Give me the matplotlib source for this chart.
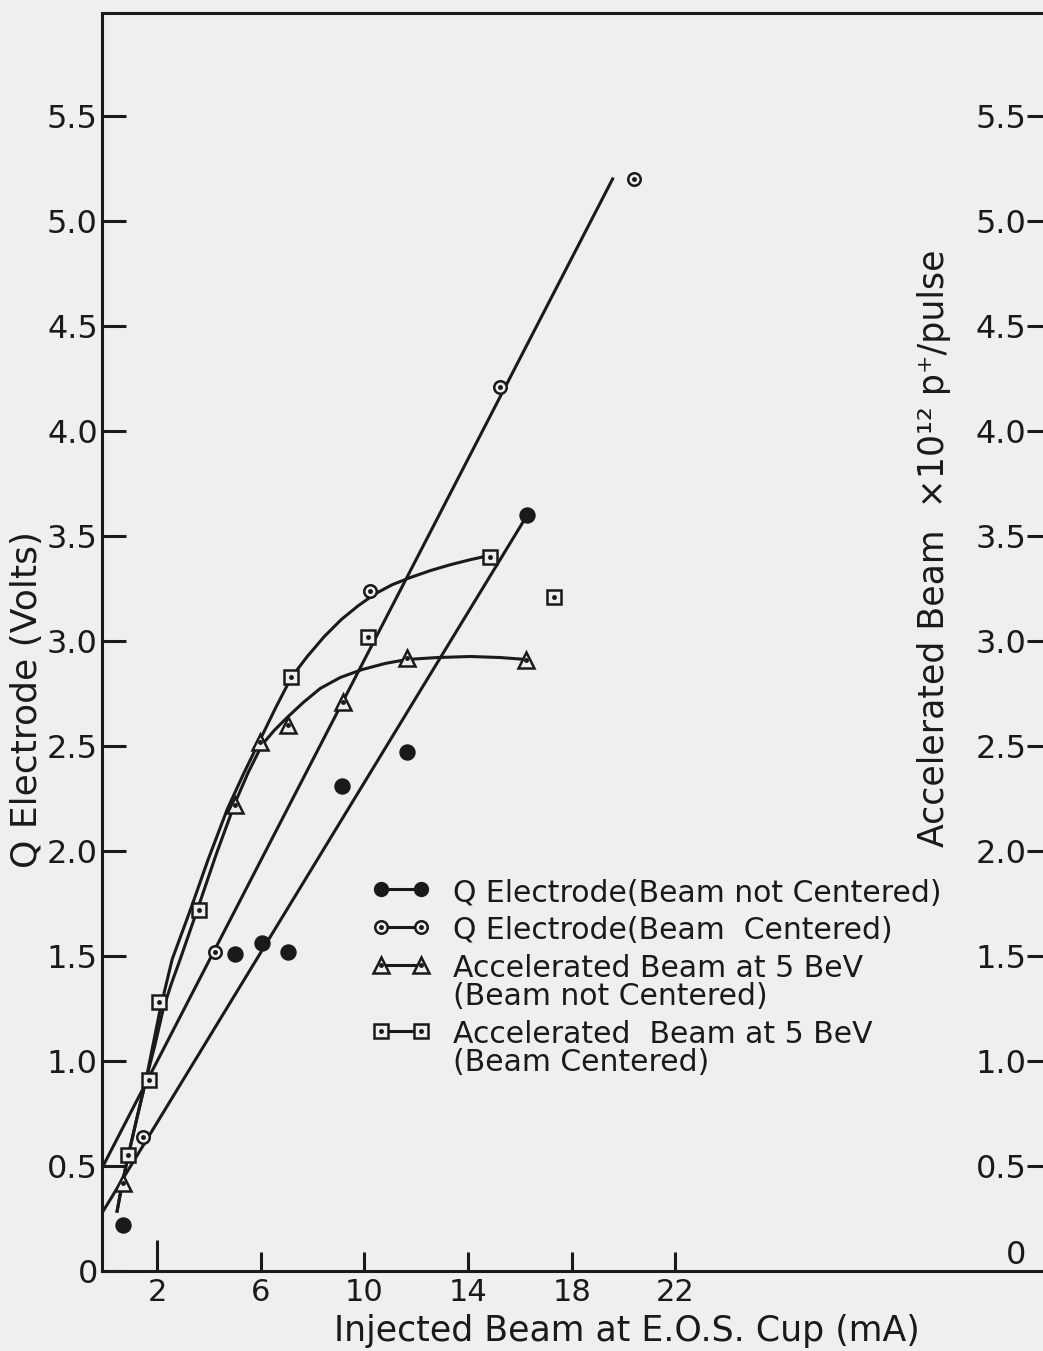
import numpy as np
import matplotlib
matplotlib.use('Agg')
import matplotlib.pyplot as plt
from matplotlib.lines import Line2D

plt.rcParams['font.family'] = ['DejaVu Sans']

x_q_nc = [0.69, 5.02, 6.06, 7.07, 9.15, 11.66, 16.29]
y_q_nc = [0.22, 1.51, 1.56, 1.52, 2.31, 2.47, 3.60]
x_q_c = [1.47, 4.25, 10.23, 15.25, 20.39]
y_q_c = [0.64, 1.52, 3.24, 4.21, 5.20]
x_acc_nc = [0.69, 5.02, 5.98, 7.07, 9.19, 11.66, 16.25]
y_acc_nc = [0.42, 2.22, 2.52, 2.60, 2.71, 2.92, 2.91]
x_acc_c = [0.89, 1.70, 2.08, 3.63, 7.18, 10.15, 14.83, 17.30]
y_acc_c = [0.55, 0.91, 1.28, 1.72, 2.83, 3.02, 3.40, 3.21]

# hand drawn fit lines / curves (points read along them)
fit_q_nc_x = [-0.12, 16.29]
fit_q_nc_y = [0.276, 3.60]
fit_q_c_x = [-0.12, 19.58]
fit_q_c_y = [0.49, 5.20]
curve_c_x = [0.463, 0.656, 0.888, 1.236, 1.583, 1.853, 2.124, 2.355, 2.587, 3.282, 3.977,
             4.710, 5.328, 5.985, 6.564, 7.181, 7.799, 8.456, 9.112, 9.768, 10.425,
             11.081, 11.776, 12.548, 13.320, 14.093, 14.788]
curve_c_y = [0.285, 0.414, 0.547, 0.733, 0.913, 1.080, 1.246, 1.365, 1.484, 1.717, 1.960,
             2.198, 2.364, 2.531, 2.678, 2.826, 2.926, 3.021, 3.102, 3.168, 3.225,
             3.268, 3.302, 3.335, 3.363, 3.387, 3.406]
curve_nc_x = [0.463, 0.656, 0.888, 1.236, 1.583, 1.931, 2.239, 2.548, 2.896, 3.591, 4.286,
              5.019, 5.521, 6.062, 6.525, 7.027, 7.645, 8.301, 9.073, 9.923, 10.811,
              11.660, 12.819, 14.093, 15.251, 16.216]
curve_nc_y = [0.285, 0.414, 0.547, 0.733, 0.913, 1.080, 1.246, 1.365, 1.484, 1.732, 1.984,
              2.231, 2.374, 2.507, 2.574, 2.636, 2.707, 2.774, 2.826, 2.864, 2.893,
              2.912, 2.921, 2.926, 2.921, 2.912]

yticks = [0, 0.5, 1.0, 1.5, 2.0, 2.5, 3.0, 3.5, 4.0, 4.5, 5.0, 5.5]
ytick_labels = ['0', '0.5', '1.0', '1.5', '2.0', '2.5', '3.0', '3.5', '4.0', '4.5', '5.0', '5.5']
xticks = [2, 6, 10, 14, 18, 22]

labels = ['Q Electrode(Beam not Centered)',
          'Q Electrode(Beam  Centered)',
          'Accelerated Beam at 5 BeV\n(Beam not Centered)',
          'Accelerated  Beam at 5 BeV\n(Beam Centered)']

paper = '#efefed'
ink = '#1a1a1a'
lw = 2.2

fig = plt.figure(figsize=(10.43, 13.51), dpi=100, facecolor=paper)
ax = fig.add_axes([102/1043, 80/1351, 944/1043, 1258/1351])
ax.set_facecolor(paper)

ax.plot(fit_q_nc_x, fit_q_nc_y, color=ink, lw=lw)
ax.plot(fit_q_c_x, fit_q_c_y, color=ink, lw=lw)
ax.plot(curve_c_x, curve_c_y, color=ink, lw=lw, solid_joinstyle='round')
ax.plot(curve_nc_x, curve_nc_y, color=ink, lw=lw, solid_joinstyle='round')

mk = dict(color=ink, linestyle='none', markeredgewidth=1.8)
ax.plot(x_q_nc, y_q_nc, marker='o', markersize=10, markerfacecolor=ink, **mk)
ax.plot(x_q_c, y_q_c, marker='o', markersize=9, markerfacecolor=paper, **mk)
ax.plot(x_acc_nc, y_acc_nc, marker='^', markersize=11, markerfacecolor=paper, **mk)
ax.plot(x_acc_c, y_acc_c, marker='s', markersize=10, markerfacecolor=paper, **mk)
for xs, ys in [(x_q_c, y_q_c), (x_acc_nc, y_acc_nc), (x_acc_c, y_acc_c)]:
    ax.plot(xs, ys, marker='o', markersize=2.5, color=ink, linestyle='none')

ax.set_xlim(-0.12, 36.3)
ax.set_ylim(0, 5.99)

for s in ax.spines.values():
    s.set_linewidth(lw)
    s.set_color(ink)

ax.set_xticks(xticks)
ax.set_xticklabels([str(t) for t in xticks])
ax.set_yticks(yticks)
ax.set_yticklabels(ytick_labels)
ax.tick_params(axis='x', direction='in', length=14, width=lw, pad=5, labelsize=22, colors=ink)
ax.tick_params(axis='y', direction='in', length=17, width=lw, pad=3, labelsize=23, colors=ink)
ax.xaxis.get_major_ticks()[0].tick1line.set_markersize(22)

ax2 = ax.twinx()
ax2.set_ylim(ax.get_ylim())
ax2.set_yticks(yticks)
ax2.set_yticklabels(ytick_labels)
ax2.tick_params(axis='y', direction='in', length=14, width=lw, pad=-14, labelsize=23, colors=ink)
for lab in ax2.get_yticklabels():
    lab.set_horizontalalignment('right')
t0 = ax2.yaxis.get_major_ticks()[0]
t0.tick2line.set_visible(False)
t0.label2.set_verticalalignment('bottom')
for s in ax2.spines.values():
    s.set_visible(False)

ax.set_xlabel('Injected Beam at E.O.S. Cup (mA)', fontsize=25, va='center', color=ink)
ax.xaxis.set_label_coords(0.556, -0.048)
ax.set_ylabel('Q Electrode (Volts)', fontsize=26, va='center', color=ink)
ax.yaxis.set_label_coords(-0.0795, 0.454)

ax.text(31.97, 3.44, 'Accelerated Beam  \u00d710\u00b9\u00b2 p\u207a/pulse', rotation=90,
        ha='center', va='center', fontsize=25, color=ink)

d = dict(marker='o', markersize=2.5, color=ink, linestyle='none')
handles = [(Line2D([], [], color=ink, lw=lw, marker='o', markersize=10, markerfacecolor=ink),),
           (Line2D([], [], color=ink, lw=lw, marker='o', markersize=9, markerfacecolor=paper, markeredgewidth=1.8), Line2D([], [], **d)),
           (Line2D([], [], color=ink, lw=lw, marker='^', markersize=11, markerfacecolor=paper, markeredgewidth=1.8), Line2D([], [], **d)),
           (Line2D([], [], color=ink, lw=lw, marker='s', markersize=10, markerfacecolor=paper, markeredgewidth=1.8), Line2D([], [], **d))]
leg = ax.legend(handles, labels, loc='upper left', bbox_to_anchor=(0.286, 0.312),
                frameon=False, numpoints=2, fontsize=21.5, handlelength=1.95,
                handletextpad=0.75, labelspacing=0.3, borderpad=0, borderaxespad=0)
for t in leg.get_texts():
    t.set_linespacing(0.95)
    t.set_color(ink)
for col in leg._legend_handle_box.get_children():
    for row in col.get_children():
        row.align = 'top'

fig.savefig('out.png', dpi=100, facecolor=paper)
